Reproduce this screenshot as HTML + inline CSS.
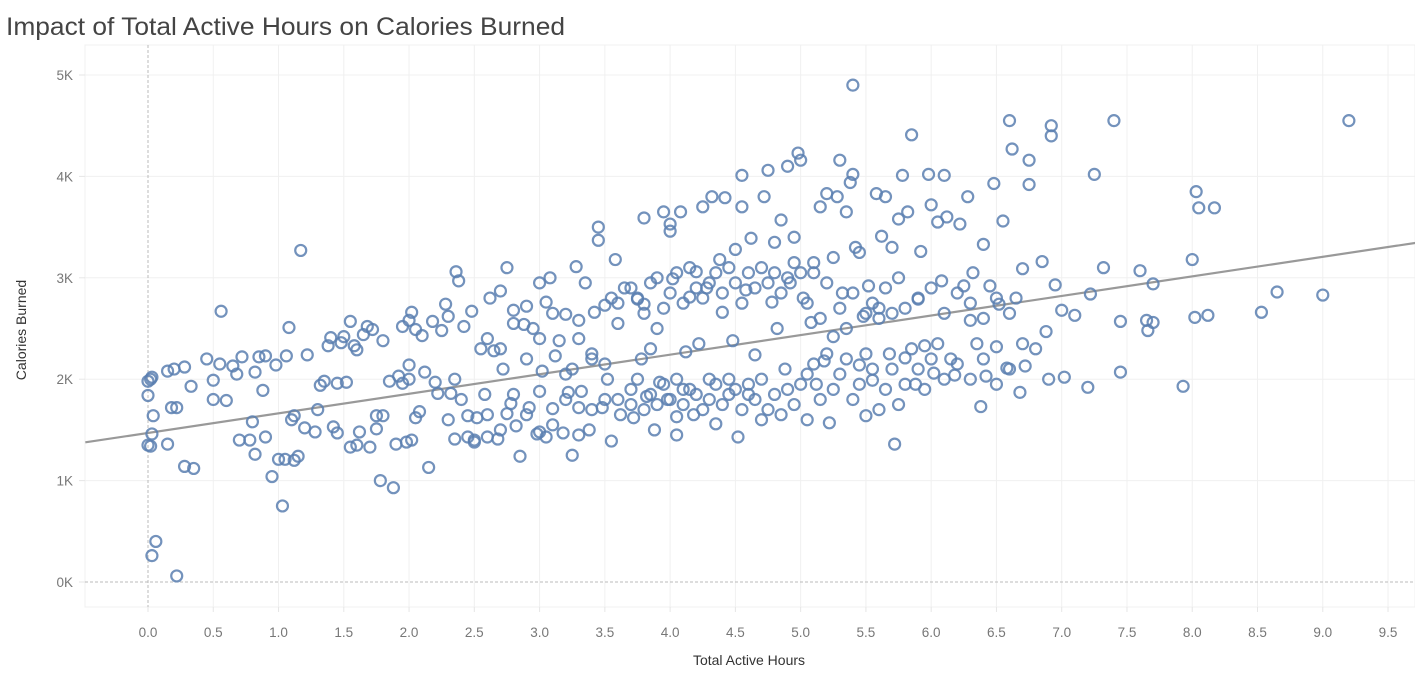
<!DOCTYPE html>
<html><head><meta charset="utf-8"><style>
body{margin:0;background:#fff;font-family:"Liberation Sans","DejaVu Sans",sans-serif;}
</style></head><body>
<svg id="chart" width="1415" height="679" xmlns="http://www.w3.org/2000/svg">
<text x="6" y="35" font-size="25" fill="#444" textLength="559" lengthAdjust="spacingAndGlyphs">Impact of Total Active Hours on Calories Burned</text>
<g id="grid"></g><g id="axes"></g><g id="trend"></g><g id="points"></g>
<text x="749" y="665" font-size="14" fill="#333" text-anchor="middle">Total Active Hours</text>
<text transform="translate(26,330) rotate(-90)" font-size="14" fill="#333" text-anchor="middle">Calories Burned</text>
</svg>
<script>
const xTicks=[0,0.5,1,1.5,2,2.5,3,3.5,4,4.5,5,5.5,6,6.5,7,7.5,8,8.5,9,9.5];
const yTicks=[0,1000,2000,3000,4000,5000];
const trendIntercept=1470, trendSlope=193;
const hours=[0,0,0.02,0.03,0,0.02,0.03,0.04,0.03,0.06,0.22,0.15,0.18,0.22,0.15,0.2,0.28,0.28,0.35,0.33,0.45,0.5,0.5,0.55,0.56,0.6,0.65,0.68,0.7,0.72,0.78,0.8,0.82,0.82,0.85,0.88,0.9,0.9,0.95,0.98,1.0,1.03,1.05,1.06,1.08,1.1,1.12,1.12,1.15,1.17,1.2,1.22,1.28,1.3,1.32,1.35,1.38,1.4,1.42,1.45,1.45,1.48,1.5,1.52,1.55,1.55,1.58,1.6,1.6,1.62,1.65,1.68,1.7,1.72,1.75,1.75,1.78,1.8,1.8,1.85,1.88,1.9,1.92,1.95,1.95,1.98,2.0,2.0,2.0,2.02,2.02,2.05,2.05,2.08,2.1,2.12,2.15,2.18,2.2,2.22,2.25,2.28,2.3,2.3,2.32,2.35,2.35,2.36,2.38,2.4,2.42,2.45,2.45,2.48,2.5,2.52,2.55,2.58,2.6,2.62,2.65,2.68,2.7,2.72,2.75,2.75,2.78,2.8,2.82,2.85,2.88,2.9,2.92,2.95,2.98,3.0,3.0,3.02,3.05,3.05,3.08,3.1,3.12,3.15,3.18,3.2,3.22,3.25,3.25,3.28,3.3,3.3,3.32,3.35,3.38,3.4,3.42,3.45,3.45,3.48,3.5,3.52,3.55,3.55,3.58,3.6,3.62,3.65,3.7,3.72,3.75,3.78,3.8,3.8,3.82,3.85,3.88,3.9,3.92,3.95,3.98,4.0,4.0,4.02,4.05,4.05,4.08,4.1,4.12,4.15,4.18,4.2,4.22,4.25,4.28,4.3,4.32,4.35,4.38,4.4,4.42,4.45,4.48,4.5,4.52,4.55,4.55,4.58,4.6,4.62,4.65,4.7,4.72,4.75,4.78,4.8,4.82,4.85,4.88,4.9,4.92,4.95,4.98,5.0,5.02,5.05,5.08,5.1,5.12,5.15,5.18,5.2,5.22,5.25,5.28,5.3,5.32,5.35,5.38,5.4,5.4,5.42,5.45,5.48,5.5,5.52,5.55,5.58,5.6,5.62,5.65,5.68,5.7,5.72,5.75,5.78,5.8,5.82,5.85,5.88,5.9,5.92,5.95,5.98,6.0,6.02,6.05,6.08,6.1,6.12,6.15,6.18,6.2,6.22,6.25,6.28,6.3,6.32,6.35,6.38,6.4,6.42,6.45,6.48,6.5,6.52,6.55,6.58,6.6,6.62,6.65,6.68,6.7,6.72,6.75,6.75,6.8,6.85,6.88,6.9,6.92,6.92,6.95,7.0,7.02,7.1,7.2,7.22,7.25,7.32,7.4,7.45,7.45,7.6,7.65,7.66,7.7,7.7,7.93,8.0,8.02,8.03,8.05,8.12,8.17,8.53,8.65,9.0,9.2,
3.6,3.7,3.75,3.8,3.85,3.9,3.95,4.0,4.05,4.1,4.15,4.2,4.25,4.3,4.35,4.4,4.45,4.5,4.55,4.6,4.65,4.7,4.75,4.8,4.85,4.9,4.95,5.0,5.05,5.1,5.15,5.2,5.25,5.3,5.35,5.4,5.45,5.5,5.55,5.6,5.65,5.7,5.75,5.8,5.85,5.9,5.95,6.0,6.05,6.1,6.2,6.3,6.4,6.5,6.6,6.7,
3.6,3.7,3.75,3.8,3.85,3.9,3.95,4.0,4.05,4.1,4.15,4.2,4.25,4.3,4.35,4.4,4.45,4.5,4.55,4.6,4.65,4.7,4.75,4.8,4.85,4.9,4.95,5.0,5.05,5.1,5.15,5.2,5.25,5.3,5.35,5.4,5.45,5.5,5.55,5.6,5.65,5.7,5.75,5.8,5.9,6.0,6.1,6.3,6.4,6.5,6.6,
2.5,2.6,2.7,2.8,2.9,3.0,3.1,3.2,3.3,3.4,3.5,2.6,2.7,2.8,2.9,3.0,3.1,3.2,3.3,3.4,3.5];
const calories=[1840,1980,2000,2020,1350,1340,1460,1640,260,400,60,1360,1720,1720,2080,2100,2120,1140,1120,1930,2200,1990,1800,2150,2670,1790,2130,2050,1400,2220,1400,1580,2070,1260,2220,1890,1430,2230,1040,2140,1210,750,1210,2230,2510,1600,1640,1200,1240,3270,1520,2240,1480,1700,1940,1980,2330,2410,1530,1470,1960,2360,2420,1970,1330,2570,2330,2290,1350,1480,2440,2520,1330,2490,1510,1640,1000,2380,1640,1980,930,1360,2030,2520,1960,1380,2140,2000,2580,2660,1400,2490,1620,1680,2430,2070,1130,2570,1970,1860,2480,2740,2620,1600,1860,1410,2000,3060,2970,1800,2520,1640,1430,2670,1380,1620,2300,1850,1430,2800,2280,1410,2870,2100,3100,1660,1760,2680,1540,1240,2540,2720,1720,2500,1460,2950,1880,2080,1430,2760,3000,1710,2230,2380,1470,2640,1870,2100,1250,3110,2580,1720,1880,2950,1500,2200,2660,3370,3500,1720,2730,2000,1390,2800,3180,2550,1650,2900,1750,1620,2790,2200,3590,2740,1830,2300,1500,2500,1970,3650,1800,3460,3530,2990,1630,1450,3650,1900,2270,2810,1650,3060,2350,3700,2900,2000,3800,1560,3180,2660,3790,2000,2380,3280,1430,3700,4010,2880,1850,3390,2240,1600,3800,4060,2760,3350,2500,3570,2100,4100,2950,3400,4230,4160,2800,1600,2560,3050,1950,3700,2180,3830,1570,2420,3800,4160,2850,3650,3940,4900,4020,3300,2140,2620,1640,2920,1990,3830,2700,3410,3800,2250,3300,1360,3580,4010,2210,3650,4410,1950,2790,3260,2330,4020,3720,2060,3550,2970,4010,3600,2200,2040,2850,3530,2920,3800,2580,3050,2350,1730,3330,2030,2920,3930,2320,2740,3560,2110,4550,4270,2800,1870,3090,2130,4160,3920,2300,3160,2470,2000,4500,4400,2930,2680,2020,2630,1920,2840,4020,3100,4550,2570,2070,3070,2580,2480,2560,2940,1930,3180,2610,3850,3690,2630,3690,2660,2860,2830,4550,
1800,1900,2000,1700,1850,1750,1950,1800,2000,1750,1900,1850,1700,1800,1950,1750,1850,1900,1700,1950,1800,2000,1700,1850,1650,1900,1750,1950,2050,2150,1800,2250,1900,2050,2200,1800,1950,2250,2100,1700,1900,2100,1750,1950,2300,2100,1900,2200,2350,2000,2150,2000,2200,1950,2100,2350,
2750,2900,2800,2650,2950,3000,2700,2850,3050,2750,3100,2900,2800,2950,3050,2850,3100,2950,2750,3050,2900,3100,2950,3050,2850,3000,3150,3050,2750,3150,2600,2950,3200,2700,2500,2850,3250,2650,2750,2600,2900,2650,3000,2700,2800,2900,2650,2750,2600,2800,2650,
1400,1650,1500,1850,1650,1480,1550,1800,1450,1700,1800,2400,2300,2550,2200,2400,2650,2050,2400,2250,2150];
const NS="http://www.w3.org/2000/svg";
const L=85,R=1415,T=45,B=607;
const x=v=>148+v*130.53, y=v=>582-v*0.1014;
function mk(tag,attrs,parent){const e=document.createElementNS(NS,tag);for(const k in attrs)e.setAttribute(k,attrs[k]);document.getElementById(parent).appendChild(e);return e;}
mk('rect',{x:L,y:T,width:R-L,height:B-T,fill:'none',stroke:'#f0f0f0'},'grid');
xTicks.forEach(t=>{
  if(t!==0){const g=mk('line',{x1:x(t),x2:x(t),y1:T,y2:B,stroke:'#f0f0f0','stroke-width':1},'grid');
  
  }
  mk('line',{x1:x(t),x2:x(t),y1:B,y2:B+5,stroke:'#e6e6e6'},'axes');
  const lb=mk('text',{x:x(t),y:637,'font-size':13.5,fill:'#777','text-anchor':'middle'},'axes');
  lb.textContent=t.toFixed(1);
  
  
});
yTicks.forEach(t=>{
  if(t!==0){const g=mk('line',{x1:L,x2:R,y1:y(t),y2:y(t),stroke:'#f0f0f0'},'grid');
  
  }
  mk('line',{x1:L-6,x2:L,y1:y(t),y2:y(t),stroke:'#e6e6e6'},'axes');
  const lb=mk('text',{x:73,y:y(t)+5,'font-size':13.5,fill:'#777','text-anchor':'end'},'axes');
  lb.textContent=(t/1000)+'K';
  
  
});
const zx=mk('line',{x1:x(0),x2:x(0),y1:T,y2:B,stroke:'#bbb','stroke-dasharray':'3,2'},'grid');


const zy=mk('line',{x1:L,x2:R,y1:y(0),y2:y(0),stroke:'#bbb','stroke-dasharray':'3,2'},'grid');


hours.forEach((h,i)=>{
  const c=mk('circle',{cx:x(h),cy:y(calories[i]),r:5.5,fill:'none',stroke:'#5b7fb0','stroke-opacity':0.85,'stroke-width':2.2},'points');
  
  
});
const x0=-0.48,x1=9.72;
const tl=mk('line',{x1:x(x0),y1:y(trendIntercept+trendSlope*x0),x2:x(x1),y2:y(trendIntercept+trendSlope*x1),stroke:'#999','stroke-width':2.2},'trend');


</script>
</body></html>
